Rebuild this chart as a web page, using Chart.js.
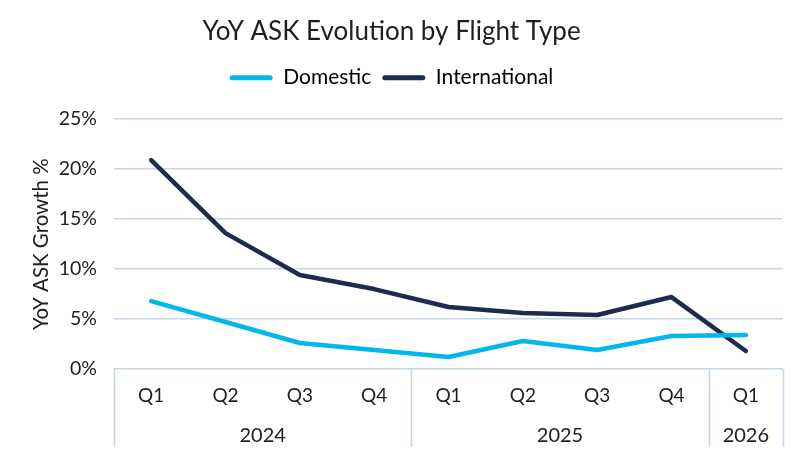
<!DOCTYPE html>
<html>
<head>
<meta charset="utf-8">
<script src="https://cdn.jsdelivr.net/npm/chart.js@4.4.1/dist/chart.umd.min.js"></script>
<style>
  html, body { margin: 0; padding: 0; background: #fff; }
  #wrap { width: 806px; height: 457px; }
</style>
</head>
<body>
<div id="wrap"><canvas id="askChart" width="806" height="457"></canvas></div>
<script>
// --- data ---
const quarters = ['Q1', 'Q2', 'Q3', 'Q4', 'Q1', 'Q2', 'Q3', 'Q4', 'Q1'];
const years = ['2024', '2024', '2024', '2024', '2025', '2025', '2025', '2025', '2026'];
const domestic = [6.8, 4.7, 2.6, 1.9, 1.2, 2.8, 1.9, 3.3, 3.4];
const international = [20.9, 13.6, 9.4, 8.0, 6.2, 5.6, 5.4, 7.2, 1.8];
const yTicks = [0, 5, 10, 15, 20, 25];

const FONT = 'Lato, "Open Sans", sans-serif';
const TEXT = '#1e1e1e';
const GRID = '#c6d6e9';
const C_DOM = '#00b7ee';
const C_INT = '#1f2a50';

Chart.defaults.font.family = FONT;
Chart.defaults.color = TEXT;

// year groups under the quarter labels + separator lines
const yearAxis = {
    id: 'yearAxis',
    afterInit(chart) {
        // push the plot area down below the legend
        const lg = chart.legend;
        if (lg && !lg._patched) {
            const fit = lg.fit;
            lg.fit = function () { fit.call(this); this.height += 21; };
            lg._patched = true;
        }
    },
    afterDraw(chart) {
        const x = chart.scales.x;
        const area = chart.chartArea;
        const ctx = chart.ctx;
        const bottom = 447;

        // split indices into year groups
        const groups = [];
        years.forEach((y, i) => {
            const g = groups[groups.length - 1];
            if (g && g.year === y) g.end = i;
            else groups.push({ year: y, start: i, end: i });
        });

        const edge = i => {
            if (i <= 0) return area.left;
            if (i >= years.length) return area.right;
            return (x.getPixelForValue(i - 1) + x.getPixelForValue(i)) / 2;
        };

        ctx.save();
        ctx.strokeStyle = GRID;
        ctx.lineWidth = 1.5;
        const cuts = [0];
        groups.forEach(g => cuts.push(g.end + 1));
        cuts.forEach(c => {
            const px = Math.round(edge(c)) + 0.5;
            ctx.beginPath();
            ctx.moveTo(px, area.bottom);
            ctx.lineTo(px, bottom);
            ctx.stroke();
        });

        ctx.fillStyle = TEXT;
        ctx.font = '20px ' + FONT;
        ctx.textAlign = 'center';
        ctx.textBaseline = 'middle';
        groups.forEach(g => {
            const cx = (x.getPixelForValue(g.start) + x.getPixelForValue(g.end)) / 2;
            ctx.fillText(g.year, cx, 436);
        });
        ctx.restore();
    }
};

new Chart(document.getElementById('askChart'), {
    type: 'line',
    data: {
        labels: quarters,
        datasets: [
            {
                label: 'Domestic',
                data: domestic,
                borderColor: C_DOM,
                backgroundColor: C_DOM,
                borderWidth: 4.5,
                pointRadius: 0,
                tension: 0,
                borderCapStyle: 'round',
                borderJoinStyle: 'round'
            },
            {
                label: 'International',
                data: international,
                borderColor: C_INT,
                backgroundColor: C_INT,
                borderWidth: 4.5,
                pointRadius: 0,
                tension: 0,
                borderCapStyle: 'round',
                borderJoinStyle: 'round'
            }
        ]
    },
    options: {
        responsive: false,
        animation: false,
        devicePixelRatio: 1,
        layout: { padding: { left: 0, right: 23, top: 0, bottom: 0 } },
        plugins: {
            title: {
                display: true,
                text: 'YoY ASK Evolution by Flight Type',
                color: TEXT,
                font: { size: 26, weight: 'normal' },
                padding: { top: 16, bottom: 9 }
            },
            legend: {
                display: true,
                position: 'top',
                labels: {
                    boxWidth: 43,
                    boxHeight: 5,
                    padding: 11,
                    useBorderRadius: true,
                    borderRadius: 2.5,
                    color: TEXT,
                    font: { size: 21 },
                    generateLabels(chart) {
                        return chart.data.datasets.map((ds, i) => ({
                            text: ds.label,
                            fillStyle: ds.borderColor,
                            strokeStyle: ds.borderColor,
                            lineWidth: 0,
                            borderRadius: 2.5,
                            hidden: false,
                            datasetIndex: i
                        }));
                    }
                }
            },
            tooltip: { enabled: false }
        },
        scales: {
            x: {
                offset: true,
                grid: { display: false, drawTicks: false },
                border: { display: false },
                ticks: { color: TEXT, font: { size: 19 }, padding: 15, maxRotation: 0, autoSkip: false },
                afterFit(scale) { scale.height = 88; }
            },
            y: {
                min: 0,
                max: 25,
                afterBuildTicks(scale) { scale.ticks = yTicks.map(v => ({ value: v })); },
                grid: { color: GRID, lineWidth: 1.5, drawTicks: false },
                border: { display: false },
                ticks: { color: TEXT, font: { size: 19.5 }, padding: 17, callback: v => v + '%' },
                title: {
                    display: true,
                    text: 'YoY ASK Growth %',
                    color: TEXT,
                    font: { size: 20.5 },
                    padding: { top: 29, bottom: 0 }
                },
                afterFit(scale) { scale.width = 114; }
            }
        }
    },
    plugins: [yearAxis]
});
</script>
</body>
</html>
